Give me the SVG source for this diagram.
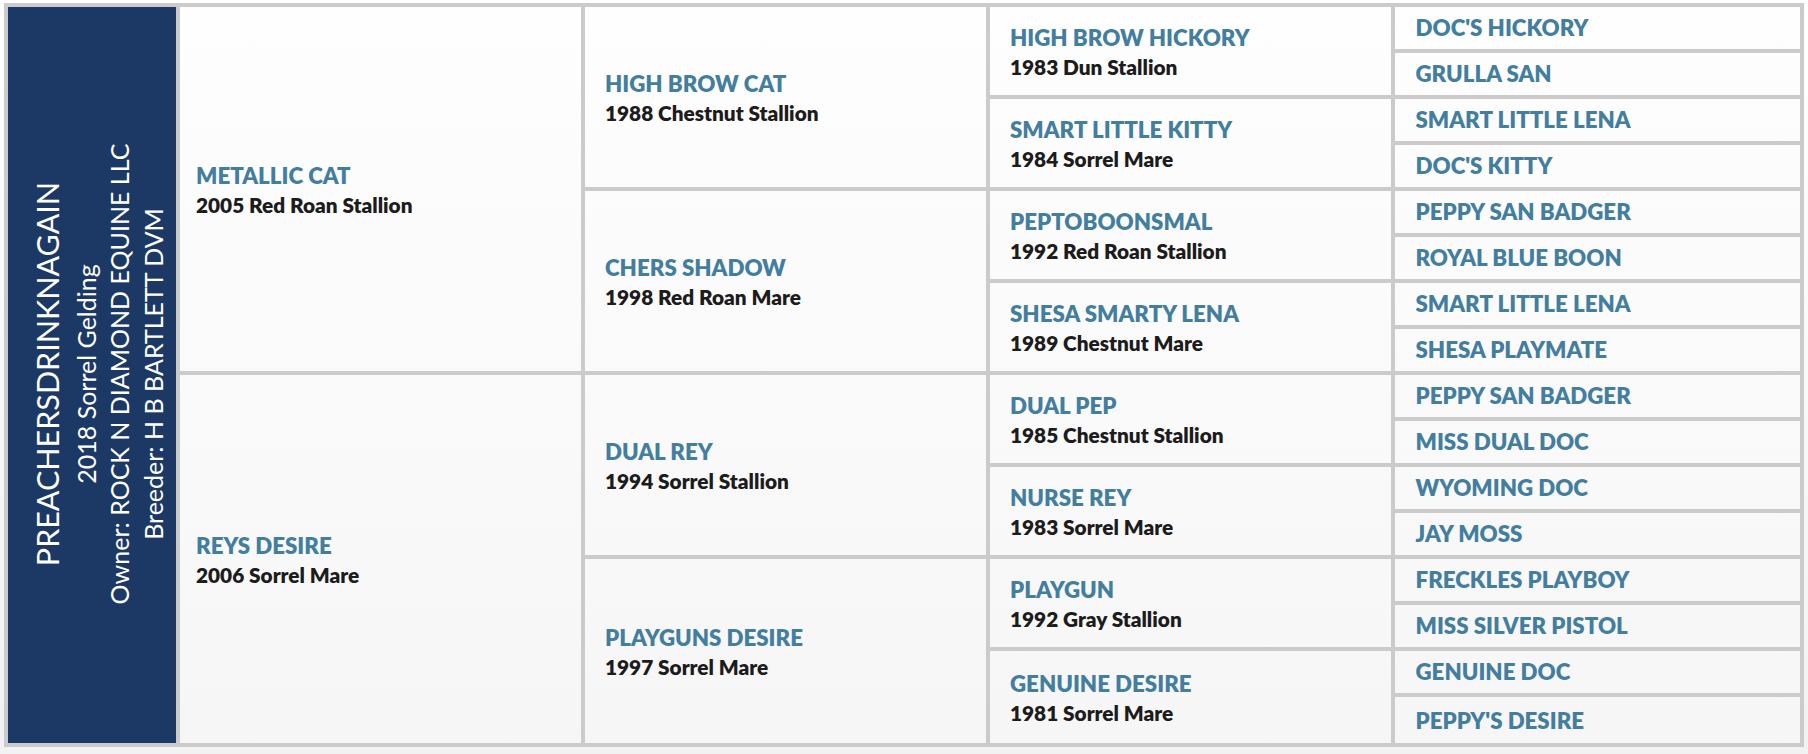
<svg xmlns="http://www.w3.org/2000/svg" width="1808" height="754" viewBox="0 0 1808 754">
<defs>
<linearGradient id="pg" x1="0" y1="0" x2="0" y2="754" gradientUnits="userSpaceOnUse"><stop offset="0" stop-color="#ffffff"/><stop offset="1" stop-color="#f2f2f2"/></linearGradient>
<linearGradient id="cg" x1="0" y1="7" x2="0" y2="743" gradientUnits="userSpaceOnUse"><stop offset="0" stop-color="#fefefe"/><stop offset="1" stop-color="#f6f6f6"/></linearGradient>
<style>
.c{fill:url(#cg)}
.n{font-family:Lato,"Liberation Sans",sans-serif;font-weight:800;font-size:22.3px;fill:#437e9f}
.s{font-family:Lato,"Liberation Sans",sans-serif;font-weight:800;font-size:20.8px;fill:#1c1c1c}
.h{font-family:Lato,"Liberation Sans",sans-serif;font-weight:400;fill:#ffffff;text-anchor:middle}
</style>
</defs>
<rect width="1808" height="754" fill="url(#pg)"/>
<rect x="4" y="3" width="1800" height="744" fill="#cbcbcb"/>
<g id="subject">
<rect x="8" y="7" width="168" height="736" fill="#1c3966"/>
<text class="h" font-size="30.5" transform="translate(59,374) rotate(-90)">PREACHERSDRINKNAGAIN</text>
<text class="h" font-size="25" transform="translate(95.5,374) rotate(-90)">2018 Sorrel Gelding</text>
<text class="h" font-size="25" transform="translate(129,374) rotate(-90)">Owner: ROCK N DIAMOND EQUINE LLC</text>
<text class="h" font-size="25" transform="translate(162.5,374) rotate(-90)">Breeder: H B BARTLETT DVM</text>
</g>
<g id="connectors"></g>
<g id="sire"><rect class="c" x="180" y="7" width="401" height="364"/><text class="n" x="196" y="184">METALLIC CAT</text><text class="s" x="196" y="212.5">2005 Red Roan Stallion</text></g>
<g id="dam"><rect class="c" x="180" y="375" width="401" height="368"/><text class="n" x="196" y="554">REYS DESIRE</text><text class="s" x="196" y="582.5">2006 Sorrel Mare</text></g>
<g id="ss"><rect class="c" x="585" y="7" width="401" height="180"/><text class="n" x="605" y="92">HIGH BROW CAT</text><text class="s" x="605" y="120.5">1988 Chestnut Stallion</text></g>
<g id="sd"><rect class="c" x="585" y="191" width="401" height="180"/><text class="n" x="605" y="276">CHERS SHADOW</text><text class="s" x="605" y="304.5">1998 Red Roan Mare</text></g>
<g id="ds"><rect class="c" x="585" y="375" width="401" height="180"/><text class="n" x="605" y="460">DUAL REY</text><text class="s" x="605" y="488.5">1994 Sorrel Stallion</text></g>
<g id="dd"><rect class="c" x="585" y="559" width="401" height="184"/><text class="n" x="605" y="646">PLAYGUNS DESIRE</text><text class="s" x="605" y="674.5">1997 Sorrel Mare</text></g>
<g id="sss"><rect class="c" x="990" y="7" width="401" height="88"/><text class="n" x="1010" y="46">HIGH BROW HICKORY</text><text class="s" x="1010" y="74.5">1983 Dun Stallion</text></g>
<g id="ssd"><rect class="c" x="990" y="99" width="401" height="88"/><text class="n" x="1010" y="138">SMART LITTLE KITTY</text><text class="s" x="1010" y="166.5">1984 Sorrel Mare</text></g>
<g id="sds"><rect class="c" x="990" y="191" width="401" height="88"/><text class="n" x="1010" y="230">PEPTOBOONSMAL</text><text class="s" x="1010" y="258.5">1992 Red Roan Stallion</text></g>
<g id="sdd"><rect class="c" x="990" y="283" width="401" height="88"/><text class="n" x="1010" y="322">SHESA SMARTY LENA</text><text class="s" x="1010" y="350.5">1989 Chestnut Mare</text></g>
<g id="dss"><rect class="c" x="990" y="375" width="401" height="88"/><text class="n" x="1010" y="414">DUAL PEP</text><text class="s" x="1010" y="442.5">1985 Chestnut Stallion</text></g>
<g id="dsd"><rect class="c" x="990" y="467" width="401" height="88"/><text class="n" x="1010" y="506">NURSE REY</text><text class="s" x="1010" y="534.5">1983 Sorrel Mare</text></g>
<g id="dds"><rect class="c" x="990" y="559" width="401" height="88"/><text class="n" x="1010" y="598">PLAYGUN</text><text class="s" x="1010" y="626.5">1992 Gray Stallion</text></g>
<g id="ddd"><rect class="c" x="990" y="651" width="401" height="92"/><text class="n" x="1010" y="692">GENUINE DESIRE</text><text class="s" x="1010" y="720.5">1981 Sorrel Mare</text></g>
<g id="g5">
<g id="g5-1"><rect class="c" x="1395" y="7" width="405" height="42"/><text class="n" x="1415.5" y="36">DOC'S HICKORY</text></g>
<g id="g5-2"><rect class="c" x="1395" y="53" width="405" height="42"/><text class="n" x="1415.5" y="82">GRULLA SAN</text></g>
<g id="g5-3"><rect class="c" x="1395" y="99" width="405" height="42"/><text class="n" x="1415.5" y="128">SMART LITTLE LENA</text></g>
<g id="g5-4"><rect class="c" x="1395" y="145" width="405" height="42"/><text class="n" x="1415.5" y="174">DOC'S KITTY</text></g>
<g id="g5-5"><rect class="c" x="1395" y="191" width="405" height="42"/><text class="n" x="1415.5" y="220">PEPPY SAN BADGER</text></g>
<g id="g5-6"><rect class="c" x="1395" y="237" width="405" height="42"/><text class="n" x="1415.5" y="266">ROYAL BLUE BOON</text></g>
<g id="g5-7"><rect class="c" x="1395" y="283" width="405" height="42"/><text class="n" x="1415.5" y="312">SMART LITTLE LENA</text></g>
<g id="g5-8"><rect class="c" x="1395" y="329" width="405" height="42"/><text class="n" x="1415.5" y="358">SHESA PLAYMATE</text></g>
<g id="g5-9"><rect class="c" x="1395" y="375" width="405" height="42"/><text class="n" x="1415.5" y="404">PEPPY SAN BADGER</text></g>
<g id="g5-10"><rect class="c" x="1395" y="421" width="405" height="42"/><text class="n" x="1415.5" y="450">MISS DUAL DOC</text></g>
<g id="g5-11"><rect class="c" x="1395" y="467" width="405" height="42"/><text class="n" x="1415.5" y="496">WYOMING DOC</text></g>
<g id="g5-12"><rect class="c" x="1395" y="513" width="405" height="42"/><text class="n" x="1415.5" y="542">JAY MOSS</text></g>
<g id="g5-13"><rect class="c" x="1395" y="559" width="405" height="42"/><text class="n" x="1415.5" y="588">FRECKLES PLAYBOY</text></g>
<g id="g5-14"><rect class="c" x="1395" y="605" width="405" height="42"/><text class="n" x="1415.5" y="634">MISS SILVER PISTOL</text></g>
<g id="g5-15"><rect class="c" x="1395" y="651" width="405" height="42"/><text class="n" x="1415.5" y="680">GENUINE DOC</text></g>
<g id="g5-16"><rect class="c" x="1395" y="697" width="405" height="46"/><text class="n" x="1415.5" y="728.5">PEPPY'S DESIRE</text></g>
</g>
</svg>
